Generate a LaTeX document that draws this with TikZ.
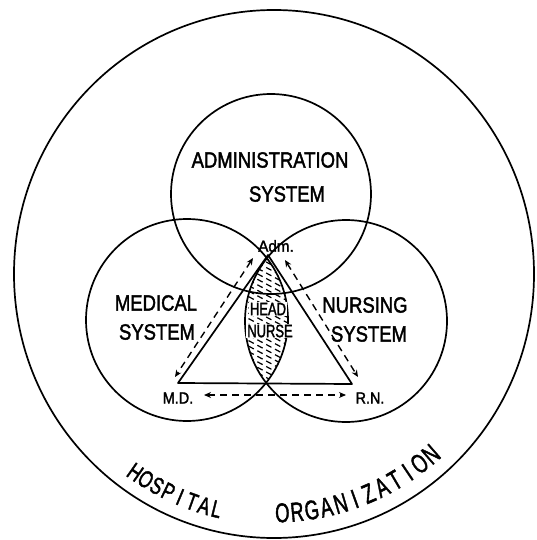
\documentclass[tikz,border=0pt]{standalone}
\usepackage{graphicx}
\usepackage{fontspec}
\setmainfont{Liberation Sans}
\newfontfamily\handfont[FakeBold=2]{Liberation Sans}
\usetikzlibrary{arrows.meta}
\newcommand{\hw}[2][0.88]{\scalebox{#1}[1]{#2}}
\begin{document}
\begin{tikzpicture}[x=1pt,y=1pt,
  ln/.style={line width=1.7pt},
  syscircle/.style={circle, draw, line width=1.7pt, inner sep=0pt},
  dsh/.style={line width=1.4pt, dash pattern=on 7pt off 5pt,
    {Stealth[length=7pt,width=6pt]}-{Stealth[length=7pt,width=6pt]}},
  hatch/.style={line width=1.2pt, dash pattern=on 6pt off 4pt},
  big/.style={font=\handfont\fontsize{22}{24}\selectfont, inner sep=0pt},
  small/.style={font=\handfont\fontsize{16}{18}\selectfont, inner sep=0pt},
  head/.style={font=\handfont\fontsize{18}{20}\selectfont, inner sep=1pt, fill=white},
  curv/.style={inner sep=0pt},
]
\useasboundingbox (0,0) rectangle (537,-540);
\fill[white] (0,0) rectangle (537,-540);

% outer organisation
\coordinate (org) at (274,-274);
\draw[ln] (org) ellipse [x radius=260pt, y radius=264pt];

% hatching of head nurse area
\coordinate (medc) at (187,-320);
\coordinate (nurc) at (346,-321);
\begin{scope}
  \clip (medc) circle (101pt);
  \clip (nurc) circle (101pt);
  \foreach \k in {0,...,30} \draw[hatch] (222,-222-\k*5.5) -- ++(-28:95);
\end{scope}

% system circles
\node[syscircle, minimum size=200pt] (adm) at (271,-194) {};
\node[syscircle, minimum size=202pt] (med) at (medc) {};
\node[syscircle, minimum size=202pt] (nur) at (nurc) {};

% triangle
\coordinate (A) at (268,-255);
\coordinate (M) at (178,-383);
\coordinate (R) at (352,-384);
\draw[ln, line join=round] (A) -- (M) -- (R) -- cycle;

% dashed two-way arrows
\coordinate (la1) at (253,-258);
\coordinate (la2) at (175,-377);
\coordinate (ra1) at (285,-260);
\coordinate (ra2) at (358,-377);
\coordinate (ba1) at (204,-395);
\coordinate (ba2) at (346,-395);
\draw[dsh] (la1) -- (la2);
\draw[dsh] (ra1) -- (ra2);
\draw[dsh] (ba1) -- (ba2);

% labels
\node[big] (t1) at (270,-160) {\hw[0.84]{ADMINISTRATION}};
\node[big] (t2) at (287,-194) {\hw[0.84]{SYSTEM}};
\node[big] (t3) at (156,-303) {\hw[0.84]{MEDICAL}};
\node[big] (t4) at (157,-332) {\hw[0.84]{SYSTEM}};
\node[big] (t5) at (365,-305) {\hw[0.84]{NURSING}};
\node[big] (t6) at (369,-334) {\hw[0.84]{SYSTEM}};
\node[head] (t7) at (268,-309) {\hw[0.72]{HEAD}};
\node[head] (t8) at (270,-331) {\hw[0.72]{NURSE}};
\node[small] (t9) at (276,-246) {\hw[0.95]{Adm.}};
\node[small] (t10) at (178,-398) {\hw[0.9]{M.D.}};
\node[small] (t11) at (370,-398) {\hw[0.9]{R.N.}};

% curved title, letter by letter, evenly spaced along the rim
\foreach \l [count=\i] in {H,O,S,P,I,T,A,L}
  \path (org) ++({235+3.04*(\i-1)}:242pt)
    node[curv, font=\handfont\fontsize{24}{24}\selectfont, rotate={325+3.04*(\i-1)}] (hosp\i) {\hw[0.72]{\l}};
\foreach \l [count=\i] in {O,R,G,A,N,I,Z,A,T,I,O,N}
  \path (org) ++({272+3.55*(\i-1)}:239pt)
    node[curv, font=\handfont\fontsize{27}{27}\selectfont, rotate={2+3.55*(\i-1)}] (orgl\i) {\hw[0.68]{\l}};
\end{tikzpicture}
\end{document}
